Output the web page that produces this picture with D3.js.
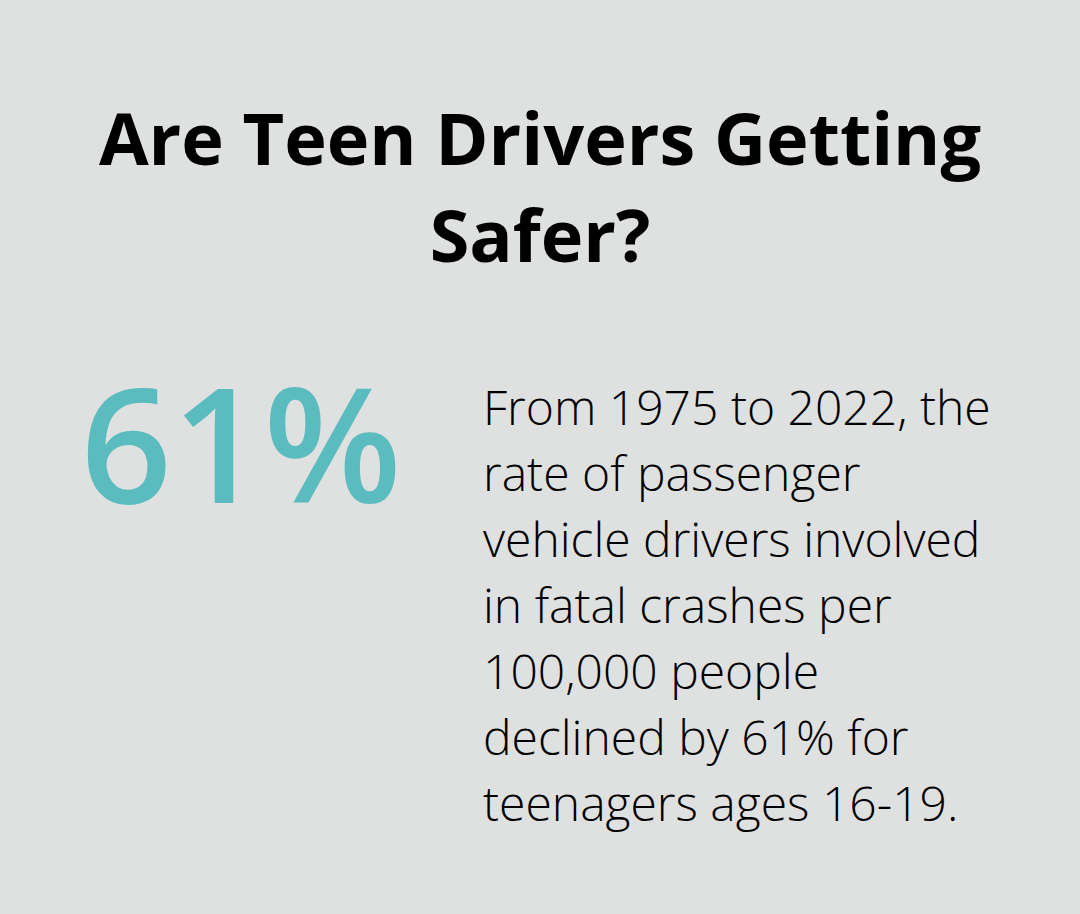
<!DOCTYPE html>
<html><head><meta charset="utf-8">
<script src="https://cdn.jsdelivr.net/npm/d3@7"></script>
<style>html,body{margin:0;padding:0;background:#dfe1e0;}svg{display:block;}</style>
</head><body>
<script>
const titleLines = ["Are Teen Drivers Getting", "Safer?"];
const statValue = ["61%"];
const bodyLines = ["From 1975 to 2022, the", "rate of passenger", "vehicle drivers involved", "in fatal crashes per", "100,000 people", "declined by 61% for", "teenagers ages 16-19."];

const W = 1080, H = 914;
const svg = d3.select("body").append("svg").attr("width", W).attr("height", H);
svg.append("rect").attr("width", W).attr("height", H).attr("fill", "#dfe1e0");

const yTitle = d3.scaleLinear().domain([0, 1]).range([165, 262]);
svg.selectAll("text.title").data(titleLines).join("text")
  .attr("class", "title")
  .attr("x", W / 2).attr("y", (d, i) => yTitle(i))
  .attr("text-anchor", "middle")
  .attr("font-family", "'Open Sans', sans-serif")
  .attr("font-weight", 700).attr("font-size", 72)
  .attr("fill", "#000").text(d => d);

svg.selectAll("text.stat").data(statValue).join("text")
  .attr("class", "stat")
  .attr("x", 241).attr("y", 503)
  .attr("text-anchor", "middle")
  .attr("font-family", "'Open Sans', sans-serif")
  .attr("font-weight", 600).attr("font-size", 160)
  .attr("fill", "#5bbcbf").text(d => d);

const yBody = d3.scaleLinear().domain([0, 1]).range([425, 491]);
svg.selectAll("text.body").data(bodyLines).join("text")
  .attr("class", "body")
  .attr("x", 483).attr("y", (d, i) => yBody(i))
  .attr("font-family", "'Open Sans', sans-serif")
  .attr("font-weight", 300).attr("font-size", 48)
  .attr("fill", "#000").text(d => d);
</script>
</body></html>
